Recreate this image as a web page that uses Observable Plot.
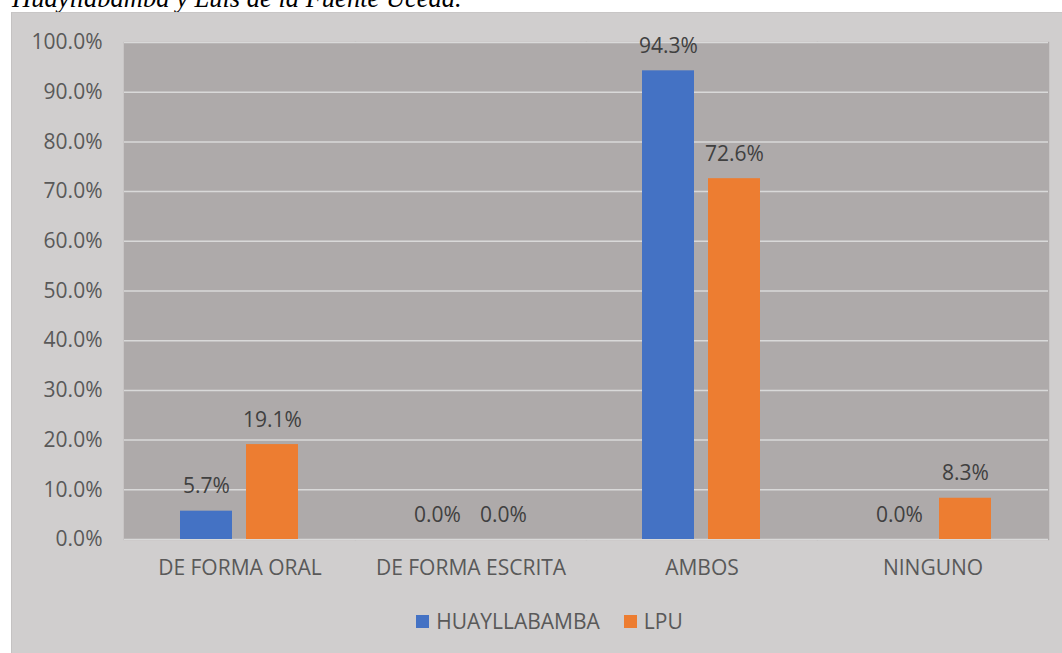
<!DOCTYPE html>
<html>
<head>
<meta charset="utf-8">
<script src="https://cdn.jsdelivr.net/npm/d3@7"></script>
<script src="https://cdn.jsdelivr.net/npm/@observablehq/plot@0.6"></script>
<style>
  html, body { margin: 0; padding: 0; background: #ffffff; width: 1062px; height: 653px; overflow: hidden; }
  #title { position: absolute; left: 12px; top: -14px; font-family: "Liberation Serif", "Times New Roman", serif; font-style: italic; font-size: 26.5px; line-height: 24px; color: #000; white-space: nowrap; }
  #chart { position: absolute; left: 11px; top: 12px; width: 1051px; height: 641px; background: #d0cece; border-left: 1px solid #c4c2c2; border-top: 1px solid #c8c6c6; box-sizing: border-box; }
  #legend { position: absolute; left: 12px; top: 588px; width: 1051px; height: 40px; display: flex; justify-content: center; align-items: center; font-family: "Open Sans", sans-serif; font-size: 21px; color: #595959; }
  .item { display: flex; align-items: center; margin: 0 12px; }
  .sw { width: 13px; height: 13px; margin-right: 7px; }
</style>
</head>
<body>
<div id="title">Huayllabamba y Luis de la Fuente Uceda.</div>
<div id="chart"></div>
<script>
const categories = ["DE FORMA ORAL", "DE FORMA ESCRITA", "AMBOS", "NINGUNO"];
const seriesNames = ["HUAYLLABAMBA", "LPU"];
const huayllabamba = [0.057, 0.0, 0.943, 0.0];
const lpu = [0.191, 0.0, 0.726, 0.083];
const yTicks = [0, 0.1, 0.2, 0.3, 0.4, 0.5, 0.6, 0.7, 0.8, 0.9, 1.0];
const colors = ["#4472c4", "#ed7d31"];

const data = [];
categories.forEach((c, i) => {
  data.push({category: c, series: seriesNames[0], value: huayllabamba[i]});
  data.push({category: c, series: seriesNames[1], value: lpu[i]});
});
const fmt = d3.format(".1%");

const plot = Plot.plot({
  width: 1050,
  height: 580,
  marginLeft: 111,
  marginRight: 14,
  marginTop: 29,
  marginBottom: 54,
  style: {background: "transparent", fontFamily: "Open Sans, sans-serif", fontSize: "21px", color: "#595959"},
  fx: {domain: categories, padding: 0, axis: "bottom", tickSize: 0, tickPadding: 21, label: null},
  x: {domain: seriesNames, axis: null, paddingInner: 0.212, paddingOuter: 0.856},
  y: {domain: [0, 1], ticks: yTicks, tickFormat: fmt, tickSize: 0, tickPadding: 22, label: null},
  color: {domain: seriesNames, range: colors},
  marks: [
    Plot.frame({fill: "#aeaaaa", stroke: "#aeaaaa", strokeWidth: 1.5}),
    Plot.ruleY(yTicks, {stroke: "#d9d9d9", strokeWidth: 1.5}),
    Plot.barY(data, {fx: "category", x: "series", y: "value", fill: "series"}),
    Plot.text(data, {fx: "category", x: "series", y: "value", text: d => fmt(d.value), lineAnchor: "bottom", dy: -18, fill: "#404040", fontSize: 21})
  ]
});
const chart = document.getElementById("chart");
chart.appendChild(plot);

const legend = document.createElement("div");
legend.id = "legend";
seriesNames.forEach((s, i) => {
  const it = document.createElement("div");
  it.className = "item";
  const sw = document.createElement("div");
  sw.className = "sw";
  sw.style.background = colors[i];
  const t = document.createElement("span");
  t.textContent = s;
  it.appendChild(sw); it.appendChild(t);
  legend.appendChild(it);
});
chart.appendChild(legend);
</script>
</body>
</html>
